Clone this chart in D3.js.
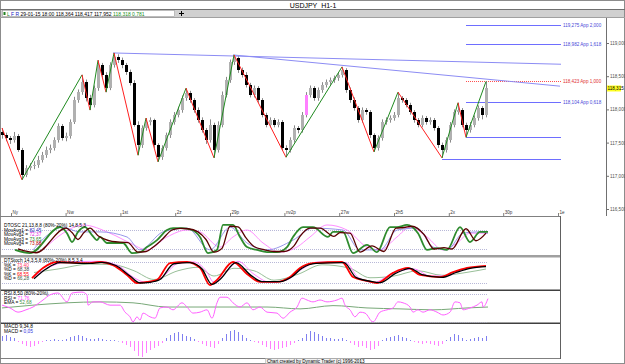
<!DOCTYPE html>
<html>
<head>
<meta charset="utf-8">
<script src="https://cdn.jsdelivr.net/npm/d3@7"></script>
<style>
  body { margin: 0; background: #fff; }
  svg text { font-family: "Liberation Sans", "DejaVu Sans", sans-serif; }
</style>
</head>
<body>
<svg width="625" height="364"></svg>
<script>
// ---- data ----
var candles = [
[117.66,117.72,117.56,117.61],[117.61,117.65,117.52,117.57],[117.57,117.60,117.48,117.54],[117.54,117.66,117.50,117.60],
[117.60,117.63,117.36,117.39],[117.39,117.42,116.94,117.01],[117.01,117.16,116.98,117.12],[117.12,117.19,117.08,117.15],
[117.15,117.22,117.10,117.16],[117.16,117.30,117.12,117.24],[117.24,117.36,117.20,117.31],[117.31,117.44,117.27,117.39],
[117.39,117.47,117.34,117.42],[117.42,117.58,117.38,117.54],[117.54,117.79,117.50,117.75],[117.75,117.78,117.53,117.57],
[117.57,117.65,117.52,117.60],[117.60,117.85,117.56,117.81],[117.81,118.19,117.78,118.14],[118.14,118.30,118.10,118.26],
[118.26,118.52,118.22,118.41],[118.41,118.45,118.12,118.17],[118.17,118.22,117.99,118.07],[118.07,118.36,118.03,118.32],
[118.32,118.74,118.28,118.67],[118.67,118.70,118.48,118.52],[118.52,118.56,118.26,118.32],[118.32,118.71,118.29,118.67],
[118.67,118.85,118.63,118.79],[118.79,118.83,118.70,118.74],[118.74,118.78,118.62,118.67],[118.67,118.70,118.52,118.56],
[118.56,118.60,118.36,118.40],[118.40,118.44,117.74,117.77],[117.77,117.82,117.31,117.46],[117.46,117.76,117.42,117.72],
[117.72,117.87,117.68,117.81],[117.81,117.88,117.76,117.84],[117.84,117.86,117.42,117.46],[117.46,117.49,117.21,117.28],
[117.28,117.46,117.24,117.42],[117.42,117.65,117.38,117.61],[117.61,117.85,117.57,117.81],[117.81,117.96,117.77,117.92],
[117.92,118.04,117.88,117.99],[117.99,118.21,117.95,118.17],[118.17,118.32,118.13,118.25],[118.25,118.28,118.10,118.14],
[118.14,118.17,117.95,117.99],[117.99,118.03,117.80,117.84],[117.84,117.88,117.65,117.69],[117.69,117.72,117.48,117.54],
[117.54,117.85,117.50,117.77],[117.77,117.80,117.27,117.39],[117.39,117.82,117.35,117.77],[117.77,118.27,117.73,118.22],
[118.22,118.49,118.18,118.44],[118.44,118.75,118.40,118.71],[118.71,118.82,118.67,118.77],[118.77,118.80,118.55,118.59],
[118.59,118.63,118.48,118.52],[118.52,118.56,118.33,118.37],[118.37,118.40,118.18,118.22],[118.22,118.36,118.18,118.32],
[118.32,118.35,118.10,118.14],[118.14,118.17,117.88,117.92],[117.92,117.95,117.73,117.77],[117.77,117.88,117.73,117.84],
[117.84,117.87,117.73,117.77],[117.77,117.85,117.73,117.81],[117.81,117.84,117.38,117.42],[117.42,117.46,117.28,117.39],
[117.39,117.58,117.35,117.54],[117.54,117.76,117.50,117.72],[117.72,117.75,117.64,117.69],[117.69,117.96,117.65,117.92],
[117.92,118.26,117.88,118.22],[118.22,118.36,118.18,118.32],[118.32,118.35,118.13,118.17],[118.17,118.33,118.13,118.29],
[118.29,118.41,118.25,118.37],[118.37,118.45,118.33,118.41],[118.41,118.48,118.37,118.44],[118.44,118.51,118.40,118.47],
[118.47,118.56,118.43,118.52],[118.52,118.64,118.48,118.59],[118.59,118.62,118.25,118.29],[118.29,118.33,118.10,118.14],
[118.14,118.18,117.98,118.02],[118.02,118.05,117.80,117.84],[117.84,118.03,117.80,117.99],[117.99,118.02,117.92,117.96],
[117.96,117.99,117.57,117.61],[117.61,117.64,117.36,117.42],[117.42,117.61,117.38,117.57],[117.57,117.85,117.53,117.81],
[117.81,117.88,117.77,117.84],[117.84,117.91,117.80,117.87],[117.87,117.96,117.83,117.92],[117.92,118.26,117.88,118.17],
[118.17,118.20,118.10,118.14],[118.14,118.17,118.03,118.07],[118.07,118.10,117.92,117.96],[117.96,117.99,117.80,117.84],
[117.84,117.87,117.73,117.77],[117.77,117.91,117.73,117.87],[117.87,117.90,117.77,117.81],[117.81,117.88,117.77,117.84],
[117.84,117.87,117.68,117.72],[117.72,117.75,117.42,117.46],[117.46,117.50,117.27,117.39],[117.39,117.58,117.35,117.54],
[117.54,117.81,117.50,117.77],[117.77,118.00,117.73,117.96],[117.96,118.10,117.92,117.99],[117.99,118.02,117.73,117.77],
[117.77,117.80,117.58,117.69],[117.69,117.81,117.65,117.77],[117.77,117.91,117.73,117.87],[117.87,118.06,117.83,118.02],
[118.02,118.05,117.85,117.92],[117.92,118.42,117.88,118.32]
];

// swing pivots (bar index, price)
var zzIdx = [0, 5, 20, 22, 24, 26, 28, 34, 36, 39, 46, 53, 58, 71, 85, 93, 99, 110, 114, 116, 121];
var zzPrice = [117.72, 116.94, 118.52, 117.99, 118.74, 118.26, 118.85, 117.31, 117.87, 117.21, 118.32,
  117.27, 118.82, 117.28, 118.64, 117.36, 118.26, 117.27, 118.10, 117.58, 118.42];

// trend lines [idx, price]
var trendLines = [
  [[27.75, 118.85], [139.75, 118.68]],
  [[57.75, 118.82], [139.5, 118.35]]
];

// projection levels
var appLevels = [119.275, 118.982, 118.423, 118.104];
var appLabels = ["119,275  App 2,000", "118,982  App 1,618", "118,423  App 1,000", "118,104  App 0,618"];
var swingLevels = [117.584, 117.253];
var swingStart = [116, 110];

var priceTicks = [116.5, 117, 117.5, 118, 118.5, 119];
var lastPrice = 118.315;

var dateTickIdx = [2.25, 15.9, 29.6, 43.3, 57, 70.6, 84.3, 98, 111.7, 125.3, 139];
var dateTickLabels = ["Ny", "Nw", "1st", "2z", "29p", "nv2p", "27w", "2h5", "2x", "30p", "1e"];

// DTOSC lines [idx, %]
var oscFast = [[3.25,17],[7,7],[14.5,89],[16.25,70],[17.5,42],[19,74],[20.75,89],[22.5,64],[23.75,48],[24.5,58],[26.25,39],
  [30.25,39],[32.5,7],[34.5,10],[36.25,26],[38.75,48],[41.25,80],[42.75,86],[45,86],[47.5,80],[49.5,58],[51.5,7],[53.75,17],
  [55.25,96],[57.75,96],[59.5,58],[61.25,26],[63.75,17],[66.25,10],[68.75,10],[71.25,26],[72.75,58],[75.25,89],[77.75,89],
  [81.5,58],[82.75,74],[85.25,74],[87.75,7],[91.25,33],[93.75,10],[97,89],[98.75,89],[101.25,96],[104,70],[106.25,17],
  [108.75,23],[111.25,17],[114.5,89],[117,42],[119.5,74],[121.5,74]];
var oscSlow = [[4,20],[8.5,8],[16,86],[17.5,72],[19,50],[20.5,72],[22,86],[24,62],[25.5,52],[27.5,44],[31.5,40],[34,10],
  [36,12],[38,28],[40,50],[42.5,80],[44.5,85],[46.5,84],[49,74],[51,50],[53,10],[55,22],[57,92],[59,90],[61,55],[63,28],
  [65.5,18],[68,12],[70.5,12],[73,30],[74.5,60],[77,86],[79.5,86],[83,60],[84.5,72],[87,70],[89.5,10],[92.5,30],[95.5,12],
  [98.5,86],[100.5,88],[102.5,92],[105.5,66],[108,20],[110.5,24],[112.5,20],[116,84],[118.5,46],[121,70]];
var oscAvg3 = [[7.75,17],[12,70],[15,89],[19.5,74],[24.5,74],[31.25,58],[34.5,17],[40.25,74],[46.25,86],[52,17],[57,89],
  [61.25,39],[66.25,17],[72.75,48],[77.75,86],[85.25,80],[89.5,17],[94.5,17],[98.75,80],[103.75,86],[107.75,26],[111.25,17],
  [115.25,70],[118.75,74],[121.5,70]];
var oscAvg4 = [[10.25,17],[15.25,70],[20.25,96],[27,70],[32,39],[36.25,17],[41.25,58],[46.25,80],[49.5,74],[54.5,26],
  [57.75,58],[61.25,80],[65.25,39],[69.5,10],[73.75,26],[77,58],[81.25,96],[86.25,80],[91.25,26],[94.5,17],[98.75,58],
  [102,89],[106.25,58],[110.25,17],[113.75,39],[117,70],[121.5,70]];

// DTStoch lines [idx, %]
var stK1 = [[7.5,34],[10.25,63],[13.75,80],[21.25,77],[24.5,80],[27.75,71],[31.25,43],[33.75,20],[36.25,23],[38.75,29],
  [42,77],[46.25,80],[49.5,63],[52,14],[53.75,29],[57.75,80],[61.25,46],[64.5,23],[68.75,23],[72,37],[74.5,63],[77.75,77],
  [85,80],[87.75,37],[91.25,26],[93.75,20],[97.75,49],[101.5,63],[104.5,43],[109.5,37],[112.75,51],[116.25,63],[121,69]];
var stD1 = [[8,32],[11,60],[14.5,78],[22,76],[25,79],[28.5,70],[32,40],[34.5,20],[37,22],[39.5,30],[43,75],[47,78],[50,60],
  [52.5,16],[54.5,30],[58.5,78],[62,44],[65,24],[69.5,24],[72.5,38],[75,62],[78.5,76],[85.5,78],[88.5,36],[92,25],[94.5,21],
  [98.5,48],[102,62],[105,44],[110,36],[113.5,50],[117,62],[121,67]];
var stK2 = [[8,38],[12,66],[16,80],[24,82],[29,70],[33,35],[36,22],[40,36],[44,76],[48,80],[51,55],[53,22],[56,50],[59,82],
  [63,45],[67,22],[71,28],[75,60],[79,80],[86,78],[89,36],[93,22],[98,50],[103,60],[107,40],[111,40],[115,58],[121,68]];
var stD2 = [[8,50],[14,60],[22,74],[28,72],[33,55],[38,30],[44,55],[49,65],[53,40],[58,62],[63,55],[68,28],[74,45],[80,72],
  [87,62],[92,35],[98,40],[104,55],[110,42],[116,50],[121,60]];

// RSI [idx, %]
var rsi = [[0,56],[2,50],[4,41],[6,46],[7.75,52],[10.25,67],[12,78],[14,82],[16.25,63],[17.5,82],[20,84],[21.25,78],[21.5,56],
  [22.75,63],[24.5,63],[27,56],[29.5,56],[30.75,41],[32,31],[32.75,20],[33.75,31],[34.5,24],[35.25,39],[37,31],[38.25,28],
  [39.5,50],[41.25,52],[42.75,46],[45,61],[46.25,52],[47.75,39],[49.5,41],[51.25,46],[52.5,28],[53.75,61],[54.5,73],[56.25,73],
  [57.75,61],[59.5,52],[61.25,61],[62.75,46],[64.5,52],[66.25,41],[68.75,39],[70.25,28],[72,41],[73.75,52],[75,71],[76.25,67],
  [77.75,63],[79.5,67],[81.25,63],[83.75,67],[85,71],[85.75,56],[87,46],[88.25,31],[89.5,41],[90.75,39],[92.75,20],[94.5,41],
  [96.25,46],[97.75,50],[99,63],[100.25,61],[102,52],[102.75,41],[104,46],[105.25,41],[107,46],[108.75,41],[110.25,35],[112,41],
  [113.25,63],[114.5,61],[115.25,46],[117,50],[118.75,56],[120,63],[120.25,52],[121.5,70]];
var rsiEma = [[0,50],[7.75,56],[16.25,61],[24.5,63],[32.75,61],[41.25,52],[49.5,52],[57.75,52],[66.25,52],[74.5,48],
  [82.75,55],[91.25,50],[99.5,48],[107.75,46],[116.25,50],[121.5,52]];

// MACD histogram, one value per bar
var macdHist = [0.05,0.06,0.04,0.03, -0.01,-0.03,-0.05,-0.06,-0.05,-0.03, -0.01,0.01,0.01,0.02,0.01,0.01,
  0.02,0.04,0.05,0.06,0.05, 0.03,0.02,0.02,0.03,0.02,0.01,0.01, 0.01,0.0,-0.02,-0.04,-0.06,
  -0.10,-0.15,-0.16,-0.12,-0.09,-0.07, -0.05,-0.02, 0.03,0.06,0.08,0.09,0.07,0.05,0.04, 0.02,-0.01,-0.03,
  -0.05,-0.06,-0.07,-0.03, 0.03,0.07,0.10,0.11,0.09,0.06, 0.03,0.01,-0.01,-0.02,
  -0.04,-0.06,-0.08,-0.09,-0.08,-0.07,-0.06,-0.04, -0.02,0.01,0.03, 0.07,0.10,0.09,0.07,0.05,
  0.03,0.03,0.02,0.02,0.03,0.01, -0.02,-0.04,-0.06,-0.05,-0.07,-0.09,-0.08,-0.05,
  0.01,0.03,0.04,0.05,0.06,0.04,0.03, 0.01,-0.01,-0.02,-0.03,-0.02,-0.03,-0.04,-0.05,-0.03,
  0.01,0.04,0.07,0.06,0.03, 0.01,0.02,0.03,0.04,0.03,0.05];

function main() {
  var svg = d3.select("svg");

  // shared scales
  var x = d3.scaleLinear().domain([0, 121]).range([2, 486]);
  var yP = d3.scaleLinear().domain([116.5, 119]).range([209, 43]);
  var yOsc = d3.scaleLinear().domain([0, 100]).range([255.3, 223.7]);
  var ySt = d3.scaleLinear().domain([0, 100]).range([290, 255]);
  var yRsi = d3.scaleLinear().domain([0, 100]).range([331.3, 284.6]);
  var yMacd = d3.scaleLinear().domain([-0.17, 0.17]).range([358, 324]);
  var comma = function (v, n) { return v.toFixed(n).replace(".", ","); };

  var defs = svg.append("defs");
  function clip(id, y0, y1, w) {
    defs.append("clipPath").attr("id", id).append("rect")
      .attr("x", 0).attr("y", y0).attr("width", w).attr("height", y1 - y0);
    return "url(#" + id + ")";
  }

  // frame + title bar + toolbar
  svg.append("rect").attr("x", 0.5).attr("y", 0.5).attr("width", 624).attr("height", 363)
    .attr("fill", "#fff").attr("stroke", "#8c8c8c");
  svg.append("text").attr("x", 313).attr("y", 7.5).attr("text-anchor", "middle")
    .attr("font-size", 7).attr("fill", "#000").text("USDJPY_H1-1");
  svg.append("rect").attr("x", 1).attr("y", 10).attr("width", 623).attr("height", 7)
    .attr("fill", "#d0d0d0");
  svg.append("line").attr("x1", 0).attr("x2", 625).attr("y1", 9.5).attr("y2", 9.5).attr("stroke", "#707070");
  svg.append("line").attr("x1", 0).attr("x2", 625).attr("y1", 17.5).attr("y2", 17.5).attr("stroke", "#a0a0a0");
  svg.append("rect").attr("x", 2.5).attr("y", 10.5).attr("width", 172).attr("height", 6)
    .attr("fill", "#fff").attr("stroke", "#909090").attr("stroke-width", 0.5);
  svg.append("rect").attr("x", 3.5).attr("y", 12).attr("width", 2).attr("height", 3).attr("fill", "#208020");
  var tb = svg.append("text").attr("x", 7).attr("y", 15.6).attr("font-size", 5);
  tb.append("tspan").attr("fill", "#208020").text("L ");
  tb.append("tspan").attr("fill", "#2020c0").text("F ");
  tb.append("tspan").attr("fill", "#2020c0").text("R  ");
  tb.append("tspan").attr("fill", "#000").text("29-01-15 18:00   118,364   118,417   117,952   ");
  tb.append("tspan").attr("fill", "#209020").text("118,318   0,781");
  svg.append("path").attr("d", "M179,13.5h5M181.5,11v5").attr("stroke", "#000").attr("stroke-width", 1);

  // ---------- price panel ----------
  var gMain = svg.append("g").attr("clip-path", clip("cMain", 18, 216, 606));

  // level lines
  gMain.selectAll("line.app").data(appLevels).join("line").attr("class", "app")
    .attr("x1", x(116)).attr("x2", 561)
    .attr("y1", function (d) { return Math.round(yP(d)) + 0.5; })
    .attr("y2", function (d) { return Math.round(yP(d)) + 0.5; })
    .attr("stroke", function (d, i) { return i === 2 ? "#ff5050" : "#6e6eff"; })
    .attr("stroke-dasharray", function (d, i) { return i === 2 ? "1,1" : null; });
  gMain.selectAll("line.swing").data(swingLevels).join("line").attr("class", "swing")
    .attr("x1", function (d, i) { return x(swingStart[i]); }).attr("x2", 561)
    .attr("y1", function (d) { return Math.round(yP(d)) + 0.5; })
    .attr("y2", function (d) { return Math.round(yP(d)) + 0.5; })
    .attr("stroke", "#6e6eff");
  svg.selectAll("text.app").data(appLevels).join("text").attr("class", "app")
    .attr("x", 563).attr("y", function (d) { return yP(d) + 1.8; })
    .attr("font-size", 4.6)
    .attr("fill", function (d, i) { return i === 2 ? "#e03030" : "#4848d8"; })
    .text(function (d, i) { return appLabels[i]; });

  // trend lines
  gMain.selectAll("line.tl").data(trendLines).join("line").attr("class", "tl")
    .attr("x1", function (d) { return x(d[0][0]); }).attr("y1", function (d) { return yP(d[0][1]); })
    .attr("x2", function (d) { return x(d[1][0]); }).attr("y2", function (d) { return yP(d[1][1]); })
    .attr("stroke", "#8c8cf4").attr("stroke-width", 1);

  // candles
  gMain.selectAll("line.wick").data(candles).join("line").attr("class", "wick")
    .attr("x1", function (d, i) { return Math.round(x(i)) + 0.5; })
    .attr("x2", function (d, i) { return Math.round(x(i)) + 0.5; })
    .attr("y1", function (d) { return yP(d[1]); })
    .attr("y2", function (d) { return yP(d[2]); })
    .attr("stroke", "#8a8a8a");
  gMain.selectAll("rect.body").data(candles).join("rect").attr("class", "body")
    .attr("shape-rendering", "crispEdges")
    .attr("x", function (d, i) { return Math.round(x(i)) - 1; })
    .attr("width", 3)
    .attr("y", function (d) { return yP(Math.max(d[0], d[3])); })
    .attr("height", function (d) { return Math.max(1, Math.abs(yP(d[0]) - yP(d[3]))); })
    .attr("fill", function (d, i) {
      if (i === 76) return "#ff80ff";
      return d[3] >= d[0] ? "#b0b0b0" : "#000";
    });

  // zigzag
  var zz = zzIdx.slice(1).map(function (d, i) {
    return [zzIdx[i], zzPrice[i], d, zzPrice[i + 1]];
  });
  gMain.selectAll("line.zz").data(zz).join("line").attr("class", "zz")
    .attr("x1", function (d) { return x(d[0]); }).attr("y1", function (d) { return yP(d[1]); })
    .attr("x2", function (d) { return x(d[2]); }).attr("y2", function (d) { return yP(d[3]); })
    .attr("stroke", function (d) { return d[3] > d[1] ? "#1f8a1f" : "#ff2020"; })
    .attr("stroke-width", 1);

  // price axis
  var pAxis = svg.append("g").attr("transform", "translate(607,0)")
    .call(d3.axisRight(yP).tickValues(priceTicks).tickSize(2).tickPadding(1)
      .tickFormat(function (d) { return comma(d, 3); }));
  pAxis.select(".domain").remove();
  pAxis.selectAll("text").attr("font-size", 4.6).attr("fill", "#505050")
    .attr("font-family", "Liberation Sans, sans-serif");
  pAxis.selectAll("line").attr("stroke", "#707070");
  svg.append("line").attr("x1", 606.5).attr("x2", 606.5).attr("y1", 18).attr("y2", 216)
    .attr("stroke", "#707070");
  svg.append("rect").attr("x", 607).attr("y", yP(lastPrice) - 3).attr("width", 14).attr("height", 6)
    .attr("fill", "#ffff20");
  svg.append("text").attr("x", 607.5).attr("y", yP(lastPrice) + 1.8).attr("font-size", 4.6)
    .text(comma(lastPrice, 3));

  // date axis
  var dAxis = svg.append("g").attr("transform", "translate(0,216)")
    .call(d3.axisBottom(x).tickValues(dateTickIdx).tickSize(3)
      .tickFormat(function (d, i) { return dateTickLabels[i]; }));
  dAxis.select(".domain").attr("d", "M0,0.5H560").attr("stroke", "#808080");
  dAxis.selectAll(".tick line").attr("stroke", "#808080").attr("y1", -3).attr("y2", 0);
  dAxis.selectAll(".tick text").attr("text-anchor", "start").attr("x", 1).attr("y", -2).attr("dy", 0)
    .attr("font-size", 4.6).attr("fill", "#404040").attr("font-family", "Liberation Sans, sans-serif");

  // ---------- indicator panels ----------
  svg.append("rect").attr("x", 1).attr("y", 255).attr("width", 559).attr("height", 2.5).attr("fill", "#a0a0a0");
  svg.append("rect").attr("x", 1).attr("y", 289.5).attr("width", 559).attr("height", 1.5).attr("fill", "#404040");
  svg.append("rect").attr("x", 1).attr("y", 322.5).attr("width", 559).attr("height", 1.5).attr("fill", "#404040");
  svg.append("line").attr("x1", 0).attr("x2", 561).attr("y1", 358.5).attr("y2", 358.5).attr("stroke", "#808080");
  svg.append("line").attr("x1", 560.5).attr("x2", 560.5).attr("y1", 216).attr("y2", 359).attr("stroke", "#606060");

  function refLines(g, scale, vals) {
    g.selectAll("line.ref").data(vals).join("line").attr("class", "ref")
      .attr("x1", x(0)).attr("x2", x(121.5))
      .attr("y1", function (d) { return Math.round(scale(d)) + 0.5; })
      .attr("y2", function (d) { return Math.round(scale(d)) + 0.5; })
      .attr("stroke", "#b8b8d8").attr("stroke-dasharray", "1,1");
  }
  function series(g, data, scale, color, width) {
    g.append("path").datum(data)
      .attr("fill", "none").attr("stroke", color).attr("stroke-width", width)
      .attr("stroke-linejoin", "round")
      .attr("d", d3.line()
        .x(function (d) { return x(d[0]); })
        .y(function (d) { return scale(d[1]); })
        .curve(d3.curveMonotoneX));
  }
  function legend(y, parts) {
    var t = svg.append("text").attr("x", 4).attr("y", y).attr("font-size", 4.8);
    parts.forEach(function (p) { t.append("tspan").attr("fill", p[1]).text(p[0]); });
  }

  // DTOSC
  var gOsc = svg.append("g").attr("clip-path", clip("cOsc", 217, 255, 560));
  refLines(gOsc, yOsc, [80, 20]);
  series(gOsc, oscAvg4, yOsc, "#ff80ff", 0.9);
  series(gOsc, oscAvg3, yOsc, "#8c8ce8", 0.9);
  series(gOsc, oscFast, yOsc, "#2e8b2e", 1.8);
  series(gOsc, oscSlow, yOsc, "#5a0000", 1.3);
  legend(227, [["DTOSC 21,13,8,8 (80%-20%) 14,8,5,3", "#000"]]);
  legend(231.5, [["MovAvg1 = ", "#000"], ["82,45", "#3030c0"]]);
  legend(236, [["MovAvg2 = ", "#000"], ["72,37", "#e020e0"]]);
  legend(240.5, [["MovAvg3 = ", "#000"], ["73,65", "#208020"]]);
  legend(245, [["MovAvg4 = ", "#000"], ["73,88", "#c00000"]]);

  // DTStoch
  var gSt = svg.append("g").attr("clip-path", clip("cSt", 257.5, 289.5, 560));
  refLines(gSt, ySt, [80, 20]);
  series(gSt, stD2, ySt, "#8cb88c", 0.9);
  series(gSt, stK2, ySt, "#ff80ff", 1);
  series(gSt, stK1, ySt, "#ff0000", 1.8);
  series(gSt, stD1, ySt, "#000", 1.3);
  legend(262, [["DTStoch 14,3,5,8 (80%-20%) 8,5,3,4", "#000"]]);
  legend(266.5, [["%K = ", "#000"], ["73,40", "#ff3060"]]);
  legend(271, [["%D = ", "#000"], ["68,38", "#404040"]]);
  legend(275.5, [["%K = ", "#000"], ["68,55", "#ff0000"]]);
  legend(280, [["%D = ", "#000"], ["66,28", "#406040"]]);

  // RSI
  var gRsi = svg.append("g").attr("clip-path", clip("cRsi", 291, 322.5, 560));
  refLines(gRsi, yRsi, [80, 20]);
  series(gRsi, rsiEma, yRsi, "#78a878", 1);
  series(gRsi, rsi, yRsi, "#ff60ff", 1);
  legend(295, [["RSI 8,50 (80%-20%)", "#000"]]);
  legend(299.5, [["RSI = ", "#000"], ["71,76", "#ff40ff"]]);
  legend(304, [["EMA = ", "#000"], ["52,68", "#409040"]]);

  // MACD
  var gM = svg.append("g").attr("clip-path", clip("cMacd", 324, 358, 560));
  gM.selectAll("line.h").data(macdHist).join("line").attr("class", "h")
    .attr("x1", function (d, i) { return Math.round(x(i)) + 0.5; })
    .attr("x2", function (d, i) { return Math.round(x(i)) + 0.5; })
    .attr("y1", yMacd(0))
    .attr("y2", function (d) { return yMacd(d) + (d === 0 ? 0.5 : 0); })
    .attr("stroke", function (d) { return d >= 0 ? "#8080f0" : "#ff80ff"; })
    .attr("stroke-width", 1);
  legend(328, [["MACD 9,34,8", "#000"]]);
  legend(332.5, [["MACD = ", "#000"], ["0,05", "#3030e0"]]);

  // footer
  svg.append("rect").attr("x", 265.5).attr("y", 358.5).attr("width", 95).attr("height", 5)
    .attr("fill", "#f2f2f2").attr("stroke", "#a0a0a0").attr("stroke-width", 0.5);
  svg.append("text").attr("x", 267).attr("y", 362.8).attr("font-size", 4.6).attr("fill", "#000")
    .text("Chart created by Dynamic Trader  (c) 1996-2013");
}
main();
</script>
</body>
</html>
